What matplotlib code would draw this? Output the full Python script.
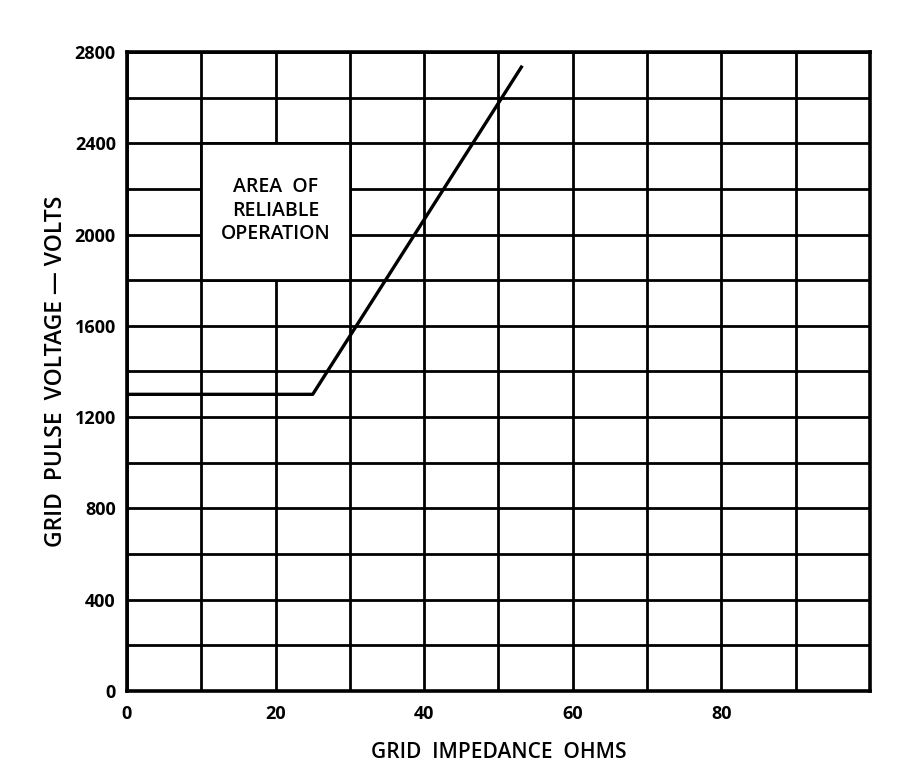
import matplotlib
matplotlib.use("Agg")
import matplotlib.pyplot as plt
from matplotlib.patches import Rectangle

# Data
impedance_ohms = [0, 25, 53.2]
pulse_volts = [1300, 1300, 2740]
x_tick_values = [0, 20, 40, 60, 80]
y_tick_values = [0, 400, 800, 1200, 1600, 2000, 2400, 2800]
x_grid = list(range(0, 101, 10))
y_grid = list(range(0, 2801, 200))
box_x = [10, 30]
box_y = [1800, 2400]
box_text = "AREA  OF\nRELIABLE\nOPERATION"
box_text_pos = (20, 2105)

plt.rcParams['font.family'] = ['Open Sans', 'DejaVu Sans']

fig = plt.figure(figsize=(9.16, 7.84), dpi=100)
ax = fig.add_axes([0.1386, 0.1186, 0.9498 - 0.1386, 0.9337 - 0.1186])
ax.set_xlim(0, 100)
ax.set_ylim(0, 2800)

for xv in x_grid:
    ax.axvline(xv, color='black', lw=2.0, zorder=1)
for yv in y_grid:
    ax.axhline(yv, color='black', lw=2.0, zorder=1)

ax.add_patch(Rectangle((box_x[0], box_y[0]), box_x[1] - box_x[0], box_y[1] - box_y[0],
                       facecolor='white', edgecolor='black', lw=2.0, zorder=2))
ax.text(box_text_pos[0], box_text_pos[1], box_text, ha='center', va='center',
        fontsize=14, fontweight='semibold', linespacing=1.25, zorder=3)

ax.plot(impedance_ohms, pulse_volts, color='black', lw=2.4, zorder=4, solid_capstyle='butt')

for s in ax.spines.values():
    s.set_linewidth(2.6)
    s.set_zorder(5)

ax.set_xticks(x_tick_values)
ax.set_xticklabels([str(v) for v in x_tick_values])
ax.set_yticks(y_tick_values)
ax.set_yticklabels([str(v) for v in y_tick_values])
ax.tick_params(length=0, labelsize=13)
ax.tick_params(axis='x', pad=10)
ax.tick_params(axis='y', pad=8)
for lab in ax.get_xticklabels() + ax.get_yticklabels():
    lab.set_fontweight('bold')

ax.set_xlabel("GRID  IMPEDANCE  OHMS", fontsize=15, fontweight='semibold', labelpad=14)
ax.set_ylabel("GRID  PULSE  VOLTAGE — VOLTS", fontsize=16.5, fontweight='semibold', labelpad=5)

fig.savefig("out.png", dpi=100)
